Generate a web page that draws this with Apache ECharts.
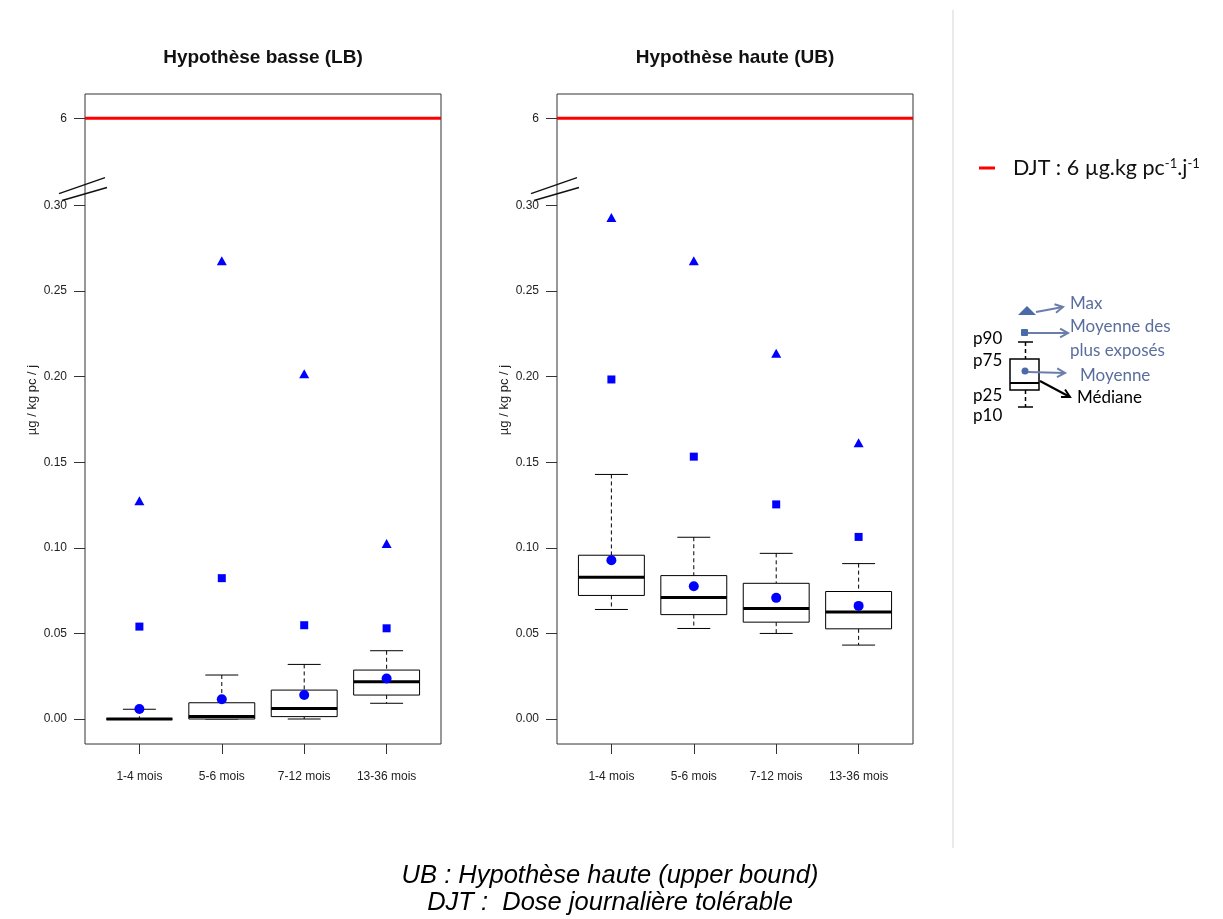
<!DOCTYPE html>
<html>
<head>
<meta charset="utf-8">
<script src="https://cdn.jsdelivr.net/npm/echarts@6/dist/echarts.min.js"></script>
<style>
  html, body { margin: 0; padding: 0; background: #fff; }
  #chart { width: 1223px; height: 919px; }
</style>
</head>
<body>
<div id="chart"></div>
<script>
// Age groups (x axis)
const ageGroups = ['1-4 mois', '5-6 mois', '7-12 mois', '13-36 mois'];

// Hypothèse basse (LB), µg / kg pc / j
const lbP10 = [0, 0, 0, 0.0092];
const lbP25 = [0, 0, 0.0014, 0.0140];
const lbMedian = [0, 0.0014, 0.0062, 0.0218];
const lbP75 = [0, 0.0095, 0.0169, 0.0286];
const lbP90 = [0.0057, 0.0257, 0.0319, 0.0399];
const lbMean = [0.0058, 0.0115, 0.0140, 0.0237];
const lbMeanExposed = [0.0540, 0.0823, 0.0548, 0.0530];
const lbMax = [0.1275, 0.2678, 0.2017, 0.1025];

// Hypothèse haute (UB), µg / kg pc / j
const ubP10 = [0.0640, 0.0529, 0.0500, 0.0432];
const ubP25 = [0.0722, 0.0610, 0.0566, 0.0527];
const ubMedian = [0.0828, 0.0710, 0.0646, 0.0626];
const ubP75 = [0.0957, 0.0838, 0.0793, 0.0745];
const ubP90 = [0.1429, 0.1062, 0.0968, 0.0908];
const ubMean = [0.0928, 0.0776, 0.0708, 0.0661];
const ubMeanExposed = [0.1984, 0.1533, 0.1254, 0.1064];
const ubMax = [0.2931, 0.2678, 0.2137, 0.1614];

// Dose journalière tolérable
const djt = 6;

// y tick values (axis is broken between 0.30 and 6)
const yTicks = [0, 0.05, 0.10, 0.15, 0.20, 0.25, 0.30, 6];

const panelTitles = ['Hypothèse basse (LB)', 'Hypothèse haute (UB)'];
const footnotes = ['UB : Hypothèse haute (upper bound)', 'DJT :  Dose journalière tolérable'];

const AXIS_FONT = 'Liberation Sans, Arial, sans-serif';
const NOTE_FONT = 'Lato, Open Sans, sans-serif';
const BLUE = '#0000ff';
const LEGEND_BLUE = '#4a6aa8';
const LEGEND_TEXT = '#5a6e9e';
const ARROW_BLUE = '#6b7eab';

const chart = echarts.init(document.getElementById('chart'), null, { renderer: 'canvas' });

function boxData(p10, p25, med, p75, p90) {
  return ageGroups.map((_, i) => [i + 1, p10[i], p25[i], med[i], p75[i], p90[i]]);
}
function pointData(vals) {
  return ageGroups.map((_, i) => [i + 1, vals[i]]);
}

// Box with dashed whiskers and solid staples, thick median
function renderBox(params, api) {
  const x = api.value(0);
  const lo = api.coord([x, api.value(1)]);
  const q1 = api.coord([x, api.value(2)]);
  const md = api.coord([x, api.value(3)]);
  const q3 = api.coord([x, api.value(4)]);
  const hi = api.coord([x, api.value(5)]);
  const bw = api.size([0.8, 0])[0];
  const sw = bw / 2;
  const cx = lo[0];
  const line = (x1, y1, x2, y2, style) => ({ type: 'line', shape: { x1, y1, x2, y2 }, style });
  const solid = { stroke: '#000', lineWidth: 1 };
  const dash = { stroke: '#000', lineWidth: 1, lineDash: [4, 3] };
  return {
    type: 'group',
    children: [
      line(cx, hi[1], cx, q3[1], dash),
      line(cx, q1[1], cx, lo[1], dash),
      line(cx - sw / 2, hi[1], cx + sw / 2, hi[1], solid),
      line(cx - sw / 2, lo[1], cx + sw / 2, lo[1], solid),
      { type: 'rect', shape: { x: cx - bw / 2, y: q3[1], width: bw, height: q1[1] - q3[1] },
        style: { fill: '#fff', stroke: '#000', lineWidth: 1 } },
      line(cx - bw / 2, md[1], cx + bw / 2, md[1], { stroke: '#000', lineWidth: 3 })
    ]
  };
}

const gridLefts = [85, 557];

function xAxisCfg(gridIndex) {
  return {
    type: 'value', gridIndex, min: 0.34, max: 4.66,
    splitLine: { show: false },
    axisLine: { show: false, onZero: false },
    axisTick: { show: true, length: 10, customValues: [1, 2, 3, 4], lineStyle: { color: '#333' } },
    axisLabel: {
      customValues: [1, 2, 3, 4], margin: 27,
      formatter: v => ageGroups[Math.round(v) - 1],
      color: '#222', fontSize: 12, fontFamily: AXIS_FONT
    }
  };
}

function yAxisCfg(gridIndex) {
  return {
    type: 'value', gridIndex, min: -0.0146, max: 6.0142,
    breaks: [{ start: 0.31, end: 5.99, gap: 0.031 }],
    breakArea: { show: false },
    splitLine: { show: false },
    axisLine: { show: false, onZero: false },
    axisTick: { show: true, length: 11, customValues: yTicks, lineStyle: { color: '#333' } },
    axisLabel: {
      customValues: yTicks, margin: 18,
      formatter: v => (v === djt ? String(djt) : v.toFixed(2)),
      color: '#222', fontSize: 12, fontFamily: AXIS_FONT
    },
    name: 'µg / kg pc / j', nameLocation: 'middle', nameGap: 46,
    nameTextStyle: { color: '#222', fontSize: 13, fontFamily: AXIS_FONT, padding: [0, 0, 0, 38] }
  };
}

function panelSeries(idx, box, mean, meanExposed, max) {
  return [
    {
      type: 'custom', name: 'box' + idx, xAxisIndex: idx, yAxisIndex: idx,
      data: box, encode: { x: 0, y: [1, 2, 3, 4, 5] }, renderItem: renderBox, z: 2, silent: true
    },
    {
      type: 'line', name: 'DJT', xAxisIndex: idx, yAxisIndex: idx,
      data: [[0.34, djt], [4.66, djt]], symbol: 'none',
      lineStyle: { color: '#ff0000', width: 3 }, itemStyle: { color: '#ff0000' }, z: 3, silent: true
    },
    {
      type: 'scatter', name: 'Moyenne', xAxisIndex: idx, yAxisIndex: idx,
      data: pointData(mean), symbol: 'circle', symbolSize: 10,
      itemStyle: { color: BLUE, opacity: 1 }, z: 4, silent: true
    },
    {
      type: 'scatter', name: 'Moyenne des plus exposés', xAxisIndex: idx, yAxisIndex: idx,
      data: pointData(meanExposed), symbol: 'rect', symbolSize: 8,
      itemStyle: { color: BLUE, opacity: 1 }, z: 4, silent: true
    },
    {
      type: 'scatter', name: 'Max', xAxisIndex: idx, yAxisIndex: idx,
      data: pointData(max), symbol: 'triangle', symbolSize: [10, 9],
      itemStyle: { color: BLUE, opacity: 1 }, z: 4, silent: true
    }
  ];
}

// Arrow with an open chevron head
function arrow(x1, y1, x2, y2, color) {
  const a = Math.atan2(y2 - y1, x2 - x1);
  const L = 9, s = 0.5;
  return {
    type: 'group',
    children: [
      { type: 'line', shape: { x1, y1, x2, y2 }, style: { stroke: color, lineWidth: 2 } },
      { type: 'polyline', shape: { points: [
          [x2 - L * Math.cos(a - s), y2 - L * Math.sin(a - s)], [x2, y2],
          [x2 - L * Math.cos(a + s), y2 - L * Math.sin(a + s)] ] },
        style: { stroke: color, lineWidth: 2, fill: null } }
    ]
  };
}
function note(x, y, text, color) {
  return { type: 'text', x, y, style: { text, fill: color, font: '17px ' + NOTE_FONT,
    textAlign: 'left', textVerticalAlign: 'middle' } };
}

// Key explaining the box symbols
const boxKey = {
  type: 'group',
  children: [
    { type: 'polygon', shape: { points: [[1018, 315], [1036, 315], [1027, 306]] }, style: { fill: LEGEND_BLUE } },
    arrow(1036, 312, 1063, 307, ARROW_BLUE),
    note(1070, 304, 'Max', LEGEND_TEXT),
    { type: 'rect', shape: { x: 1021, y: 329, width: 7, height: 7, r: 1 }, style: { fill: LEGEND_BLUE } },
    arrow(1028, 333, 1068, 333, ARROW_BLUE),
    note(1070, 327, 'Moyenne des', LEGEND_TEXT),
    note(1070, 351, 'plus exposés', LEGEND_TEXT),
    note(973, 339, 'p90', '#000'),
    note(973, 361, 'p75', '#000'),
    note(973, 396, 'p25', '#000'),
    note(973, 416, 'p10', '#000'),
    { type: 'line', shape: { x1: 1018, y1: 342, x2: 1033, y2: 342 }, style: { stroke: '#000', lineWidth: 1.5 } },
    { type: 'line', shape: { x1: 1025.5, y1: 342, x2: 1025.5, y2: 359 }, style: { stroke: '#000', lineWidth: 1.5, lineDash: [4, 3] } },
    { type: 'rect', shape: { x: 1010, y: 359, width: 29, height: 31 }, style: { fill: null, stroke: '#000', lineWidth: 1.5 } },
    { type: 'line', shape: { x1: 1010, y1: 383, x2: 1039, y2: 383 }, style: { stroke: '#000', lineWidth: 2 } },
    { type: 'line', shape: { x1: 1025.5, y1: 390, x2: 1025.5, y2: 407 }, style: { stroke: '#000', lineWidth: 1.5, lineDash: [4, 3] } },
    { type: 'line', shape: { x1: 1018, y1: 407, x2: 1033, y2: 407 }, style: { stroke: '#000', lineWidth: 1.5 } },
    { type: 'circle', shape: { cx: 1025, cy: 371, r: 3.5 }, style: { fill: LEGEND_BLUE } },
    arrow(1028, 372, 1065, 373, ARROW_BLUE),
    note(1080, 376, 'Moyenne', LEGEND_TEXT),
    arrow(1040, 381, 1070, 397, '#000'),
    note(1077, 398, 'Médiane', '#000')
  ]
};

const option = {
  backgroundColor: '#fff',
  animation: false,
  title: panelTitles.map((t, i) => ({
    text: t, left: gridLefts[i] + 173, top: 43, textAlign: 'center',
    textStyle: { fontFamily: AXIS_FONT, fontSize: 19, fontWeight: 'bold', color: '#111' }
  })),
  legend: {
    data: ['DJT'], left: 979, top: 157, padding: 0, icon: 'rect', itemWidth: 16, itemHeight: 3,
    selectedMode: false,
    formatter: () => 'DJT : 6 µg.kg pc{sup|-1}.j{sup|-1}',
    textStyle: {
      fontFamily: NOTE_FONT, fontSize: 21.5, color: '#111', padding: [0, 0, 0, 13],
      rich: { sup: { fontFamily: NOTE_FONT, fontSize: 13, verticalAlign: 'top', color: '#111' } }
    }
  },
  grid: gridLefts.map(l => ({
    left: l, top: 94, width: 356, height: 650, show: true,
    borderColor: '#333', borderWidth: 1, backgroundColor: 'transparent',
    containLabel: false, outerBoundsMode: 'none'
  })),
  xAxis: [xAxisCfg(0), xAxisCfg(1)],
  yAxis: [yAxisCfg(0), yAxisCfg(1)],
  series: [
    ...panelSeries(0, boxData(lbP10, lbP25, lbMedian, lbP75, lbP90), lbMean, lbMeanExposed, lbMax),
    ...panelSeries(1, boxData(ubP10, ubP25, ubMedian, ubP75, ubP90), ubMean, ubMeanExposed, ubMax)
  ]
};

chart.setOption(option);

// Axis-break marks ("//") drawn over the left frame of each panel, just above 0.30
const breakMarks = [0, 1].map(i => {
  const p = chart.convertToPixel({ xAxisIndex: i, yAxisIndex: i }, [0.34, 0.30]);
  const L = p[0], y = p[1];
  return {
    type: 'group', z: 100,
    children: [
      { type: 'line', shape: { x1: L - 26, y1: y - 12, x2: L + 20, y2: y - 28 }, style: { stroke: '#111', lineWidth: 1.5 } },
      { type: 'line', shape: { x1: L - 23, y1: y - 5, x2: L + 22, y2: y - 18 }, style: { stroke: '#111', lineWidth: 1.5 } }
    ]
  };
});

chart.setOption({
  graphic: [
    ...breakMarks,
    { type: 'line', shape: { x1: 953, y1: 10, x2: 953, y2: 848 }, style: { stroke: '#d4d4d4', lineWidth: 1 } },
    boxKey,
    ...footnotes.map((t, i) => ({
      type: 'text', x: 610, y: 876 + i * 27,
      style: { text: t, fill: '#000', font: 'italic 25.5px ' + AXIS_FONT, textAlign: 'center', textVerticalAlign: 'middle' }
    }))
  ]
});
</script>
</body>
</html>
